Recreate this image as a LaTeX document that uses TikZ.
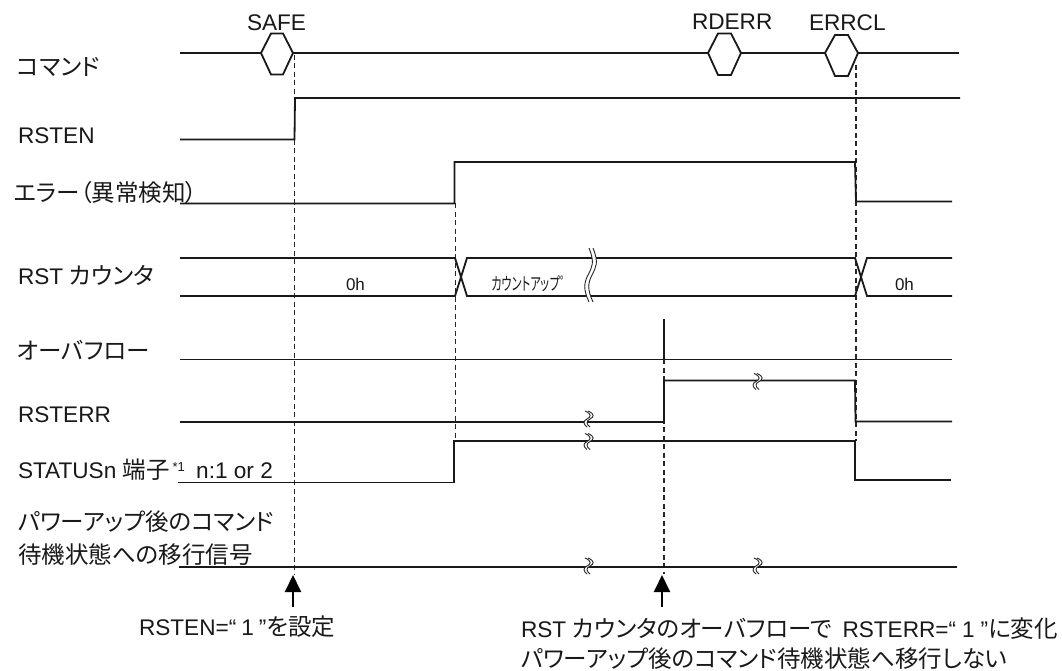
\documentclass[tikz,border=0pt]{standalone}
\usepackage{fontspec}
\usepackage{graphicx}
\setmainfont{Liberation Sans}
\newfontfamily\cjk[RawFeature=+palt,Scale=1.04]{Noto Sans CJK JP}
\newcommand{\jp}[1]{{\cjk #1}}
\newcommand{\brk}[2]{% x, y: tall break on the counter bus
  \begin{scope}[shift={(#1,#2)}]
    \fill[white] (2,-27) .. controls (8,-12) and (5,-8) .. (1,0) .. controls (-3,8) and (-4,14) .. (2,27)
      -- (-2,27) .. controls (-8,14) and (-7,8) .. (-3,0) .. controls (1,-8) and (4,-12) .. (-2,-27) -- cycle;
    \draw[breakline] (2,-27) .. controls (8,-12) and (5,-8) .. (1,0) .. controls (-3,8) and (-4,14) .. (2,27);
    \draw[breakline] (-2,-27) .. controls (4,-12) and (1,-8) .. (-3,0) .. controls (-7,8) and (-8,14) .. (-2,27);
  \end{scope}}
\newcommand{\sbrk}[2]{% x, y: small break on a single line
  \begin{scope}[shift={(#1,#2)}]
    \fill[white] (0,-8) .. controls (7,-5) and (6,-2) .. (2,0) .. controls (-2,2) and (-2,5) .. (2,8)
      -- (-1,8) .. controls (-5,5) and (-5,2) .. (-1,0) .. controls (3,-2) and (4,-5) .. (-3,-8) -- cycle;
    \draw[breakline] (0,-8) .. controls (7,-5) and (6,-2) .. (2,0) .. controls (-2,2) and (-2,5) .. (2,8);
    \draw[breakline] (-3,-8) .. controls (4,-5) and (3,-2) .. (-1,0) .. controls (-5,2) and (-5,5) .. (-1,8);
  \end{scope}}
\tikzset{
  sig/.style={line width=1.8pt,black!90,line join=miter},
  guide/.style={line width=1.1pt,black!85,dash pattern=on 5pt off 3.5pt},
  breakline/.style={line width=0.9pt,black!85},
  lbl/.style={anchor=base west,inner sep=0pt,outer sep=0pt,font=\fontsize{22.6}{26}\selectfont,text=black!90},
  val/.style={anchor=base west,inner sep=0pt,outer sep=0pt,font=\fontsize{17}{20}\selectfont,text=black!90},
  upar/.style={line width=2pt,black,-{Triangle[length=17pt,width=16pt]}}
}
\usetikzlibrary{arrows.meta}
\begin{document}
\begin{tikzpicture}[x=1pt,y=-1pt]
\useasboundingbox (0,0) rectangle (1062,671);
\fill[white] (0,0) rectangle (1062,671);
% guides
\coordinate (g1t) at (294.5,55); \coordinate (g1b) at (294.5,574);
\coordinate (g2t) at (455.5,203); \coordinate (g2b) at (455.5,441);
\coordinate (g3t) at (664,359); \coordinate (g3b) at (664,574);
\coordinate (g4t) at (856,65); \coordinate (g4b) at (856,441);
\draw[guide] (g1t)--(g1b);
\draw[guide] (g2t)--(g2b);
\draw[guide] (g3t)--(g3b);
\draw[guide] (g4t)--(g4b);
% command
\draw[sig] (180,53)--(261,53)--(271,33.5)--(283,33.5)--(293,53)--(283,74.5)--(271,74.5)--(261,53);
\draw[sig] (293,53)--(708,53)--(718,33.5)--(731,33.5)--(741,53)--(731,75)--(718,75)--(708,53);
\draw[sig] (741,53)--(825,53)--(835,35)--(848,35)--(858,53)--(848,76)--(835,76)--(825,53);
\draw[sig] (858,53)--(959,53);
% RSTEN
\draw[sig] (180,139.5)--(294.5,139.5)--(295,98)--(960,98);
% error
\draw[sig] (180,203.5)--(454.5,203.5)--(454.5,162)--(855,162)--(856,201.5)--(952,201.5);
% counter
\draw[sig] (180,258)--(455,258)--(467,296)--(590,296);
\draw[sig] (180,296)--(455,296)--(467,258)--(590,258);
\draw[sig] (590,258)--(855,258)--(867,296)--(952,296);
\draw[sig] (590,296)--(855,296)--(867,258)--(952,258);
\brk{591}{275}
% overflow
\draw[sig] (180,359.5)--(952,359.5);
\draw[sig] (664,319)--(664,359.5);
% rsterr
\draw[sig] (180,422)--(664,422)--(664,380.5)--(855,380.5)--(855.5,421.5)--(952,421.5);
% status
\draw[sig] (178,482.5)--(454,482.5)--(454,441)--(855,441)--(855,480)--(951,480);
% power
\draw[sig] (179,567)--(957,567);
% breaks
\sbrk{588}{419}
\sbrk{588}{441.5}
\sbrk{588}{566}
\sbrk{757}{381.5}
\sbrk{757}{566}
% arrows
\coordinate (a1s) at (293,607); \coordinate (a1e) at (293,575);
\coordinate (a2s) at (662,607); \coordinate (a2e) at (662,575);
\draw[upar] (a1s)--(a1e);
\draw[upar] (a2s)--(a2e);
% labels
\node[lbl] (safe) at (247,31) {SAFE};
\node[lbl] (rderr) at (692,30) {RDERR};
\node[lbl] (errcl) at (809,31) {ERRCL};
\node[lbl] (lcmd) at (17,76) {\jp{コマンド}};
\node[lbl] (lrsten) at (18,144) {RSTEN};
\node[lbl] (lerr) at (14,201) {\jp{エラー（異常検知）}};
\node[lbl] (lcnt) at (18,284) {RST \jp{カウンタ}};
\node[lbl] (lovf) at (17,359) {\jp{オーバフロー}};
\node[lbl] (lrsterr) at (18,422) {RSTERR};
\node[lbl] (lstat) at (18,478) {STATUSn \jp{端子}\hspace{3pt}\raisebox{7pt}{\fontsize{13}{16}\selectfont *1}\hspace{5pt} n:1 or 2};
\node[lbl] (lpw1) at (18,530) {\jp{パワーアップ後のコマンド}};
\node[lbl] (lpw2) at (18,563) {\jp{待機状態への移行信号}};
\node[lbl] (n1) at (139,635) {RSTEN=“\hspace{5pt}1\hspace{5pt}”\jp{を設定}};
\node[lbl] (n2) at (521,637) {RST \jp{カウンタのオーバフローで}\hspace{4pt} RSTERR=“\hspace{6pt}1\hspace{6pt}”\jp{に変化}};
\node[lbl] (n3) at (521,667) {\jp{パワーアップ後のコマンド待機状態へ移行しない}};
\node[val] (v1) at (346,290) {0h};
\node[val] (v2) at (895,290) {0h};
\node[val] (v3) at (492,290) {\scalebox{.63}[1]{\jp{カウントアップ゜}}};
\end{tikzpicture}
\end{document}
